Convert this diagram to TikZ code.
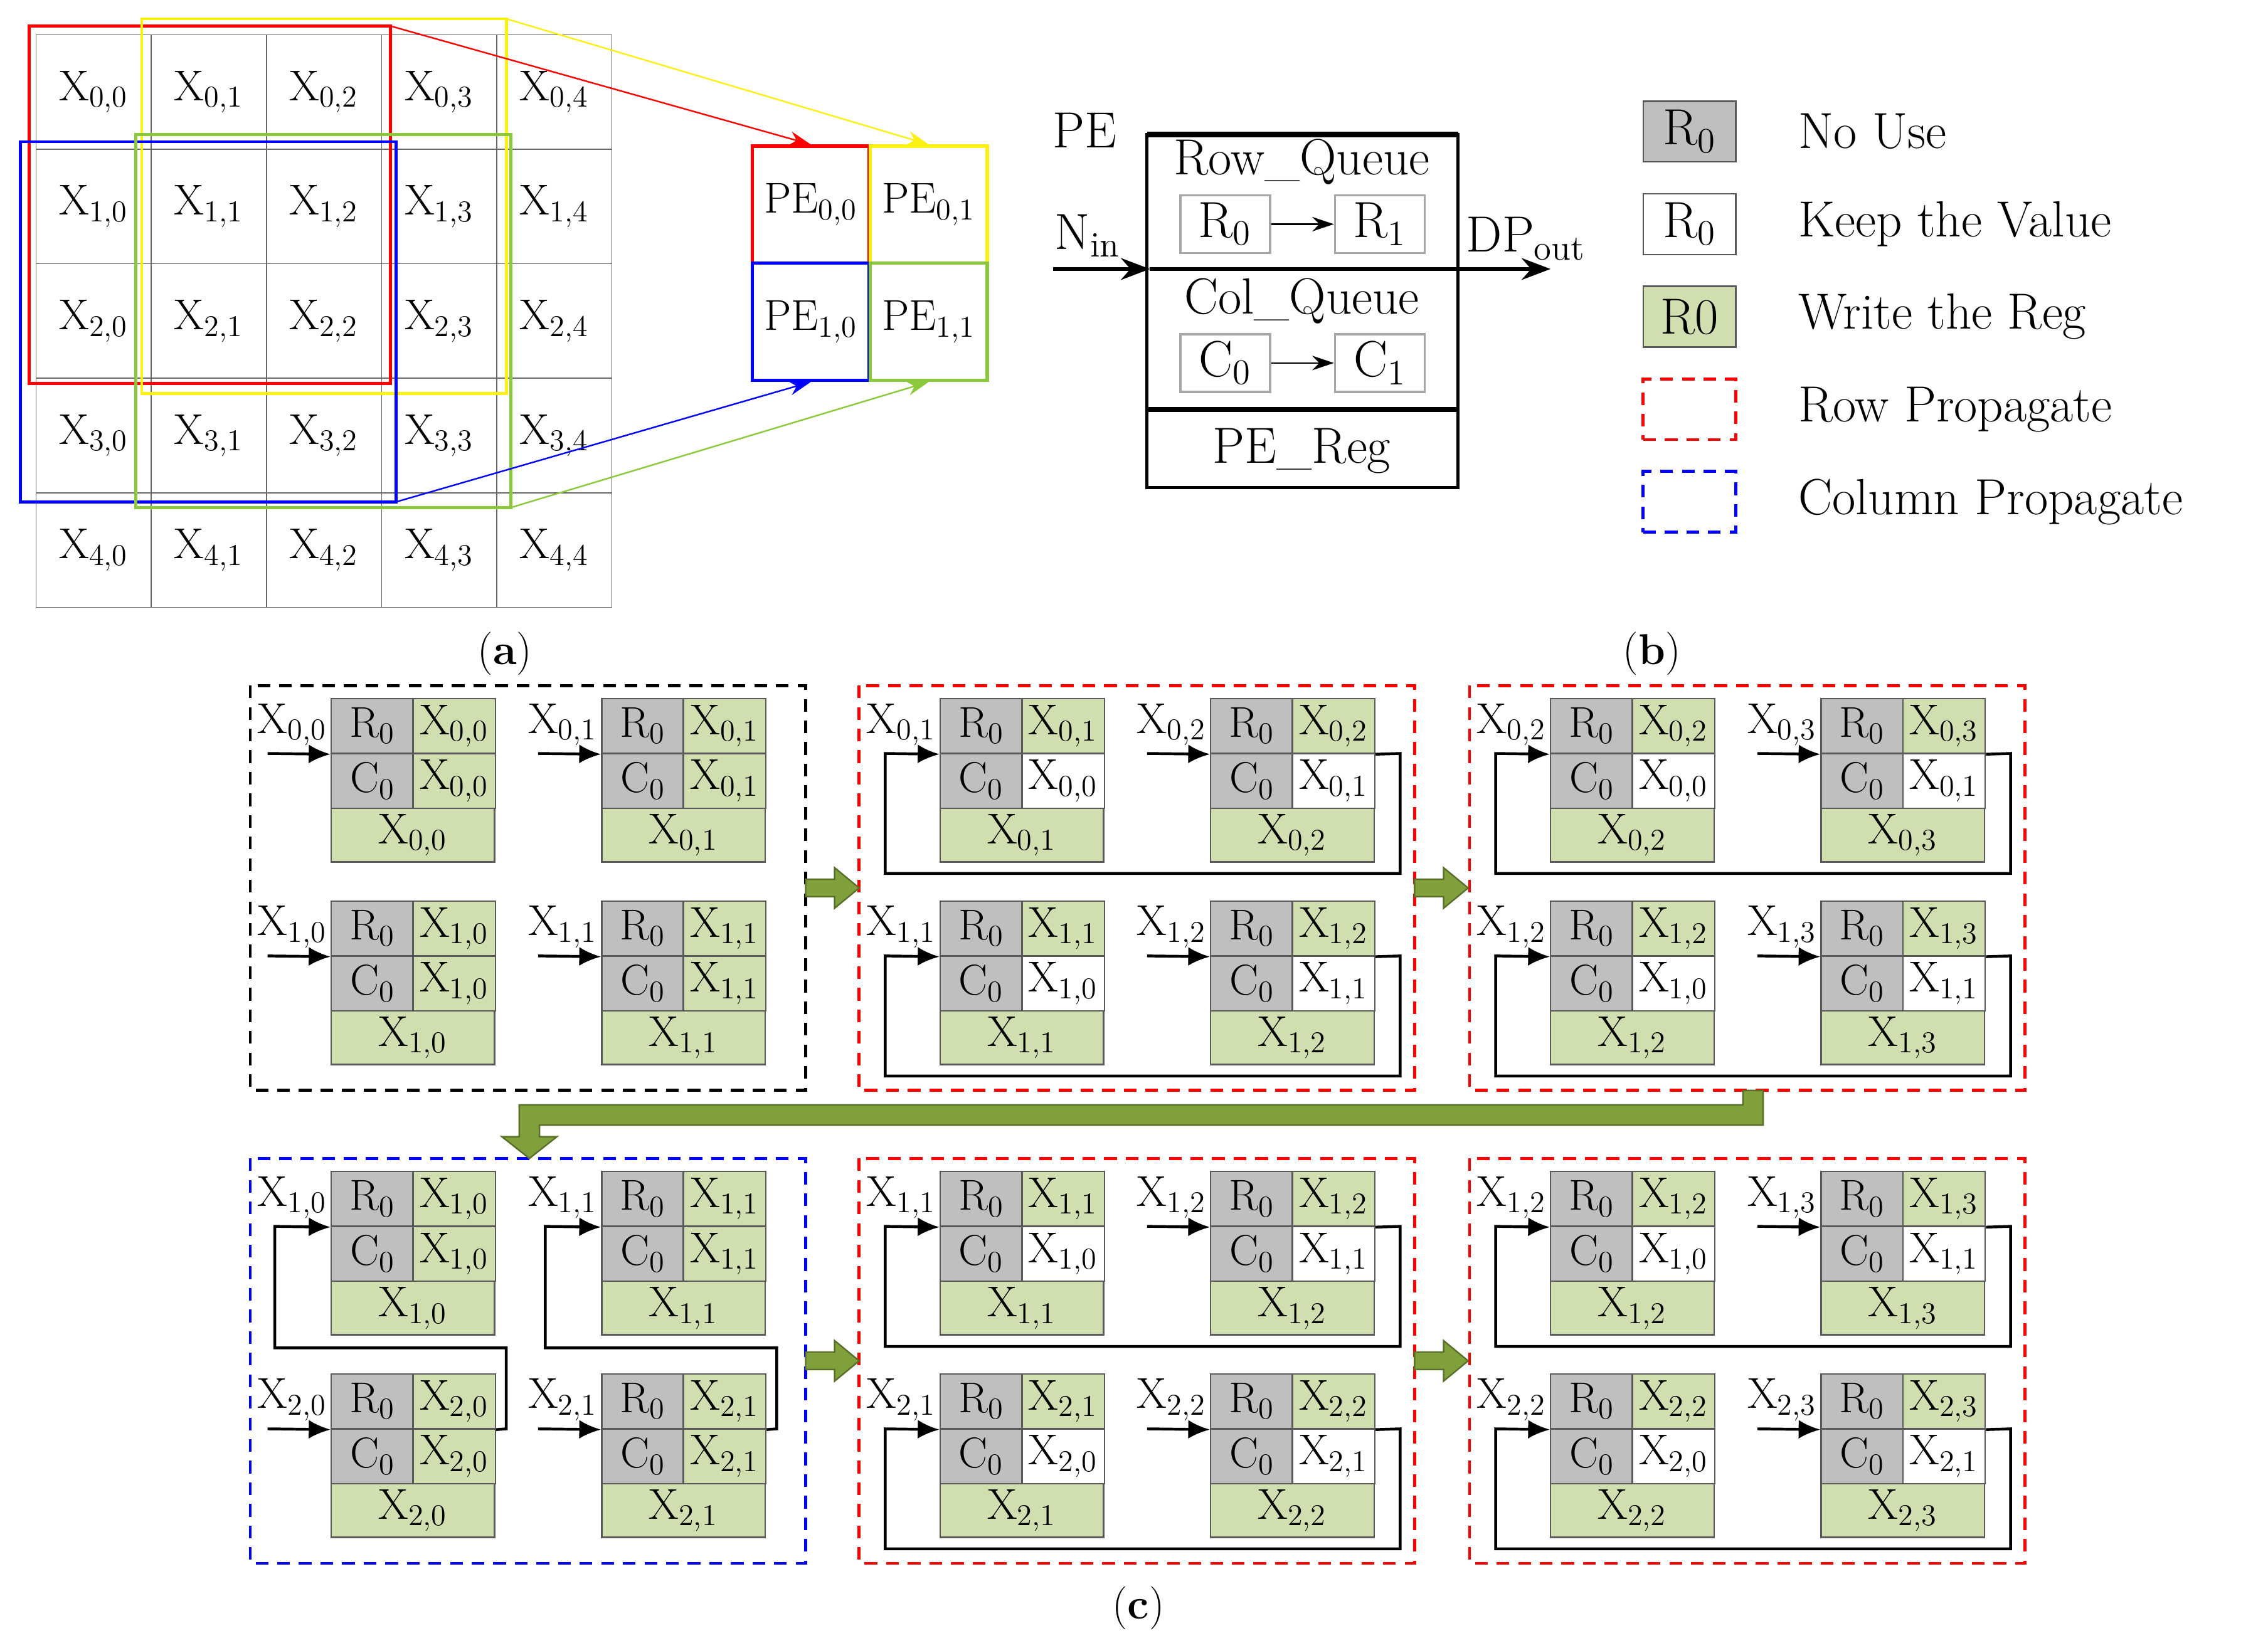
\documentclass[tikz,border=0pt]{standalone}
\usetikzlibrary{arrows.meta}
\begin{document}
\begin{tikzpicture}[x=0.02cm,y=-0.02cm,
  every node/.style={font=\fontsize{17}{19}\selectfont, inner sep=0pt},
  gcell/.style={draw=gray!80!black, minimum width=1.592cm, minimum height=1.584cm},
  pecell/.style={line width=1.3pt, minimum width=1.62cm, minimum height=1.62cm},
  sel/.style={line width=1.2pt},
  thin arrow/.style={line width=0.6pt, -{Stealth[length=3mm,width=2mm]}},
  qbox/.style={draw=gray!70, line width=0.9pt, minimum width=1.24cm, minimum height=0.8cm},
  bfont/.style={font=\fontsize{20}{22}\selectfont},
  nouse/.style={fill=gray!50, draw=gray!70!black, line width=0.6pt},
  keep/.style={fill=white, draw=gray!70!black, line width=0.6pt},
  write/.style={fill=wgreen, draw=gray!70!black, line width=0.6pt},
  rc/.style={minimum width=1.14cm, minimum height=0.76cm},
  bc/.style={minimum width=2.26cm, minimum height=0.74cm},
  grp/.style={line width=1.2pt, dash pattern=on 5pt off 3.5pt},
  feed/.style={line width=1.1pt, -{Latex[length=3mm,width=2.6mm]}},
  garrow/.style={fill=ggreen, draw=ggreen!70!black, line width=0.6pt}]
\definecolor{wgreen}{RGB}{208,222,176}
\definecolor{ggreen}{RGB}{128,160,60}
\definecolor{lgreen}{RGB}{140,200,60}
\definecolor{yel}{RGB}{250,240,20}
\useasboundingbox (0,0) rectangle (1568,1136);
\fill[white] (0,0) rectangle (1568,1136);

% ---------- (a) grid
\foreach \i in {0,...,4}{
  \foreach \j in {0,...,4}{
    \node[gcell] (a\i\j) at ({25+79.6*\j+39.8},{24+79.2*\i+39.6}) {X\textsubscript{\i,\j}};
  }
}
\draw[sel,red] (20,18) rectangle (270,265);
\draw[sel,yel] (98,13) rectangle (350,272);
\draw[sel,blue] (14,98) rectangle (274,347);
\draw[sel,lgreen] (94,93) rectangle (353,351);
\coordinate (rNE) at (270,18);
\coordinate (yNE) at (350,13);
\coordinate (bSE) at (274,347);
\coordinate (gSE) at (353,351);

\node[pecell,draw=red] (pe00) at (560.5,141.5) {PE\textsubscript{0,0}};
\node[pecell,draw=yel] (pe01) at (642,141.5) {PE\textsubscript{0,1}};
\node[pecell,draw=blue] (pe10) at (560.5,222.5) {PE\textsubscript{1,0}};
\node[pecell,draw=lgreen] (pe11) at (642,222.5) {PE\textsubscript{1,1}};
\draw[thin arrow,red] (rNE) -- (pe00.north);
\draw[thin arrow,yel] (yNE) -- (pe01.north);
\draw[thin arrow,blue] (bSE) -- (pe10.south);
\draw[thin arrow,lgreen] (gSE) -- (pe11.south);
\node (la) at (349,452) {(\textbf{a})};

% ---------- (b) PE
\node[bfont] (pelab) at (750,90) {PE};
\draw[line width=1.2pt] (793,93) rectangle (1008,337);
\draw[line width=2pt] (793,93) -- (1008,93);
\draw[line width=2pt] (793,283) -- (1008,283);
\node[bfont] (rq) at (900,112) {Row\_Queue};
\node[qbox,bfont] (r0) at (847,155) {R\textsubscript{0}};
\node[qbox,bfont] (r1) at (954,155) {R\textsubscript{1}};
\draw[thin arrow] (r0) -- (r1);
\node[bfont] (cq) at (900,208) {Col\_Queue};
\node[qbox,bfont] (c0) at (847,251) {C\textsubscript{0}};
\node[qbox,bfont] (c1) at (954,251) {C\textsubscript{1}};
\draw[thin arrow] (c0) -- (c1);
\node[bfont] (pereg) at (900,312) {PE\_Reg};
\coordinate (nin) at (728,186);
\coordinate (bl) at (795,186);
\coordinate (br) at (1008,186);
\coordinate (dpo) at (1072,186);
\draw[line width=1.6pt] (bl) -- (br);
\draw[line width=1.6pt,-{Stealth[length=4mm,width=3mm]}] (nin) -- (bl);
\draw[line width=1.6pt,-{Stealth[length=4mm,width=3mm]}] (br) -- (dpo);
\node[bfont] (ninl) at (752,163) {N\textsubscript{in}};
\node[bfont] (dpl) at (1055,165) {DP\textsubscript{out}};
\node (lb) at (1142,452) {(\textbf{b})};

% ---------- legend
\node[nouse,bfont,minimum width=1.28cm,minimum height=0.84cm] (l1) at (1168,91) {R\textsubscript{0}};
\node[keep,bfont,minimum width=1.28cm,minimum height=0.84cm] (l2) at (1168,155) {R\textsubscript{0}};
\node[write,bfont,minimum width=1.28cm,minimum height=0.84cm] (l3) at (1168,219) {R0};
\node[draw=red,grp,minimum width=1.28cm,minimum height=0.84cm] (l4) at (1168,283) {};
\node[draw=blue,grp,minimum width=1.28cm,minimum height=0.84cm] (l5) at (1168,347) {};
\node[bfont,anchor=west] (t1) at (1243,91) {No Use};
\node[bfont,anchor=west] (t2) at (1243,155) {Keep the Value};
\node[bfont,anchor=west] (t3) at (1243,219) {Write the Reg};
\node[bfont,anchor=west] (t4) at (1243,283) {Row Propagate};
\node[bfont,anchor=west] (t5) at (1243,347) {Column Propagate};

% ---------- (c)
\foreach \g/\gx/\gy/\col/\a/\b/\cg/\lt in {1/173/474/black/0/0/1/0, 2/594/474/red/0/1/0/1, 3/1016/474/red/0/2/0/1, 4/173/801/blue/1/0/1/2, 5/594/801/red/1/1/0/1, 6/1016/801/red/1/2/0/1}{
  \draw[grp,draw=\col] (\gx,\gy) rectangle ({\gx+384},{\gy+280});
  \foreach \i in {0,1}{
    \foreach \j in {0,1}{
      \pgfmathsetmacro{\bx}{\gx+56+187*\j}
      \pgfmathsetmacro{\by}{\gy+9+140*\i}
      \pgfmathtruncatemacro{\r}{\i+\a}
      \pgfmathtruncatemacro{\c}{\j+\b}
      \node[nouse,rc] (g\g-\i\j-r) at ({\bx+28.5},{\by+19}) {R\textsubscript{0}};
      \node[write,rc] (g\g-\i\j-rv) at ({\bx+85},{\by+19}) {X\textsubscript{\r,\c}};
      \node[nouse,rc] (g\g-\i\j-c) at ({\bx+28.5},{\by+57}) {C\textsubscript{0}};
      \ifnum\cg=1
        \node[write,rc] (g\g-\i\j-cv) at ({\bx+85},{\by+57}) {X\textsubscript{\r,\j}};
      \else
        \node[keep,rc] (g\g-\i\j-cv) at ({\bx+85},{\by+57}) {X\textsubscript{\r,\j}};
      \fi
      \node[write,bc] (g\g-\i\j-b) at ({\bx+56.5},{\by+94.5}) {X\textsubscript{\r,\c}};
      \node (g\g-\i\j-lab) at ({\bx-27},{\by+18}) {X\textsubscript{\r,\c}};
      \coordinate (g\g-\i\j-in) at ({\bx-44},{\by+38});
    }
  }
  % inputs
  \ifnum\lt=0
    \foreach \i in {0,1}{\foreach \j in {0,1}{\draw[feed] (g\g-\i\j-in) -- (g\g-\i\j-r.south west);}}
  \fi
  \ifnum\lt=1
    \foreach \i in {0,1}{
      \pgfmathsetmacro{\by}{\gy+9+140*\i}
      \draw[feed] (g\g-\i1-in) -- (g\g-\i1-r.south west);
      \draw[feed] (g\g-\i1-rv.south east) -- ({\gx+374},{\by+38}) -- ({\gx+374},{\by+121}) -- ({\gx+18},{\by+121}) -- ({\gx+18},{\by+38}) -- (g\g-\i0-r.south west);
    }
  \fi
  \ifnum\lt=2
    \foreach \j in {0,1}{
      \pgfmathsetmacro{\bx}{\gx+56+187*\j}
      \draw[feed] (g\g-1\j-in) -- (g\g-1\j-r.south west);
      \draw[feed] (g\g-1\j-rv.south east) -- ({\bx+121},{\gy+187}) -- ({\bx+121},{\gy+131}) -- ({\bx-39},{\gy+131}) -- ({\bx-39},{\gy+47}) -- (g\g-0\j-r.south west);
    }
  \fi
}
% green block arrows
\foreach \ax/\ay in {557/614, 978/614, 557/941, 978/941}{
  \draw[garrow] (\ax,{\ay-6}) -- ({\ax+20},{\ay-6}) -- ({\ax+20},{\ay-14}) -- ({\ax+37},\ay) -- ({\ax+20},{\ay+14}) -- ({\ax+20},{\ay+6}) -- (\ax,{\ay+6}) -- cycle;
}
\draw[garrow] (1205,754) -- (1219,754) -- (1219,778) -- (373,778) -- (373,786) -- (385,786) -- (366,801) -- (347,786) -- (359,786) -- (359,764) -- (1205,764) -- cycle;
\node (lc) at (787,1112) {(\textbf{c})};
\end{tikzpicture}
\end{document}
